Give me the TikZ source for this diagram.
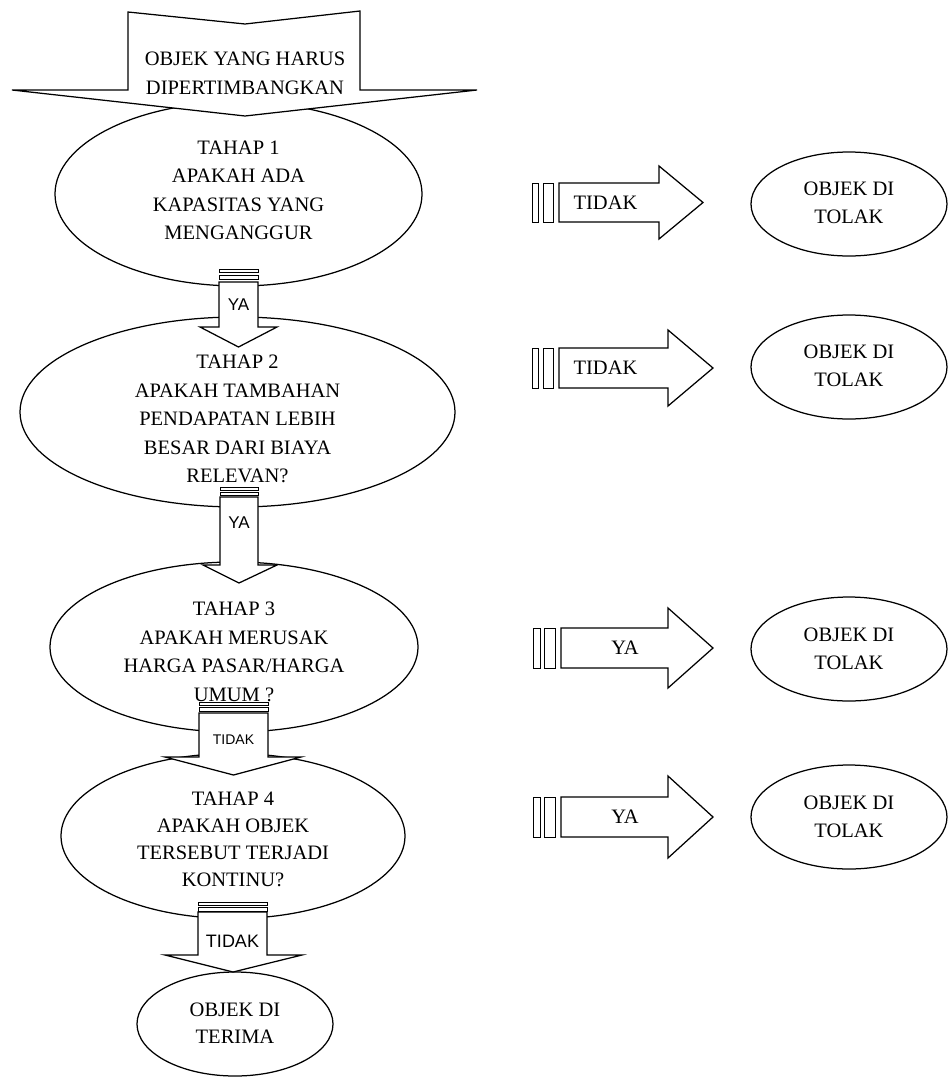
\documentclass[tikz,border=0pt]{standalone}
\usepackage{fontspec}
\setmainfont{Liberation Serif}
\newfontfamily\arialf{Liberation Sans}
\usetikzlibrary{shapes.geometric}
\begin{document}
\begin{tikzpicture}[x=1pt,y=-1pt, line width=1.25pt, line join=miter,
  oval/.style={draw, ellipse, fill=white, inner sep=0pt},
  txt/.style={font=\fontsize{20.5}{28.5}\selectfont, align=center, inner sep=0pt},
  blk/.style={draw, fill=white},
  stripe/.style={draw, fill=white, line width=1pt},
  sanslbl/.style={font=\arialf\fontsize{17}{20}\selectfont, inner sep=0pt}]
\useasboundingbox (0,0) rectangle (948,1077);

% main column ellipses
\node[oval, minimum width=367pt, minimum height=184pt] (e1) at (238.5,194) {};
\node[txt] (t1) at (238.5,190.5) {TAHAP 1\\APAKAH ADA\\KAPASITAS YANG\\MENGANGGUR};

\node[oval, minimum width=435pt, minimum height=190pt] (e2) at (237.5,412) {};
\node[txt] (t2) at (237.5,419) {TAHAP 2\\APAKAH TAMBAHAN\\PENDAPATAN LEBIH\\BESAR DARI BIAYA\\RELEVAN?};

\node[oval, minimum width=368pt, minimum height=170pt] (e3) at (234,647) {};
\node[txt] (t3) at (234,652) {TAHAP 3\\APAKAH MERUSAK\\HARGA PASAR/HARGA\\UMUM ?};

\node[oval, minimum width=344pt, minimum height=165pt] (e4) at (233,836) {};
\node[txt, font=\fontsize{20.5}{27}\selectfont] (t4) at (233,839) {TAHAP 4\\APAKAH OBJEK\\TERSEBUT TERJADI\\KONTINU?};

\node[oval, minimum width=196pt, minimum height=104pt] (e5) at (235,1024) {};
\node[txt, font=\fontsize{20.5}{27}\selectfont] (t5) at (235,1023) {OBJEK DI\\TERIMA};

% right ellipses
\node[oval, minimum width=196pt, minimum height=104pt] (r1) at (849,204) {};
\node[txt, font=\fontsize{20.5}{28}\selectfont] (rt1) at (849,202.5) {OBJEK DI\\TOLAK};
\node[oval, minimum width=196pt, minimum height=104pt] (r2) at (849,367) {};
\node[txt, font=\fontsize{20.5}{28}\selectfont] (rt2) at (849,366) {OBJEK DI\\TOLAK};
\node[oval, minimum width=196pt, minimum height=104pt] (r3) at (849,649) {};
\node[txt, font=\fontsize{20.5}{28}\selectfont] (rt3) at (849,649) {OBJEK DI\\TOLAK};
\node[oval, minimum width=196pt, minimum height=104pt] (r4) at (849,817) {};
\node[txt, font=\fontsize{20.5}{28}\selectfont] (rt4) at (849,817) {OBJEK DI\\TOLAK};

% right striped arrows
\draw[stripe] (532,183) rectangle (538,222);
\draw[stripe] (543,183) rectangle (553,222);
\draw[blk] (559,183) -- (659,183) -- (659,166) -- (703,202.5) -- (659,239) -- (659,222) -- (559,222) -- cycle;
\node[txt, anchor=west] (a1) at (573,203) {TIDAK};

\draw[stripe] (532,348) rectangle (538,388);
\draw[stripe] (543,348) rectangle (553,388);
\draw[blk] (559,348) -- (668,348) -- (668,330) -- (713,368) -- (668,406) -- (668,388) -- (559,388) -- cycle;
\node[txt, anchor=west] (a2) at (573,368) {TIDAK};

\draw[stripe] (533,628) rectangle (540,668);
\draw[stripe] (544,628) rectangle (555,668);
\draw[blk] (561,628) -- (668,628) -- (668,608) -- (713,648) -- (668,688) -- (668,668) -- (561,668) -- cycle;
\node[txt] (a3) at (625,648) {YA};

\draw[stripe] (533,797) rectangle (540,837);
\draw[stripe] (544,797) rectangle (555,837);
\draw[blk] (561,797) -- (668,797) -- (668,776) -- (713,817) -- (668,858) -- (668,837) -- (561,837) -- cycle;
\node[txt] (a4) at (625,817) {YA};

% down striped arrows
\draw[stripe] (219,269) rectangle (258,272.5);
\draw[stripe] (219,275) rectangle (258,279.5);
\draw[blk] (219,282) -- (258,282) -- (258,327) -- (277,327) -- (238.5,347) -- (200,327) -- (219,327) -- cycle;
\node[sanslbl] (d1) at (238.5,305) {YA};

\draw[stripe] (220,487) rectangle (258,490.5);
\draw[stripe] (220,492.5) rectangle (258,495);
\draw[blk] (220,497) -- (258,497) -- (258,565) -- (277,565) -- (239,583) -- (203,565) -- (220,565) -- cycle;
\node[sanslbl] (d2) at (239,523) {YA};

\draw[stripe] (199,702) rectangle (268,705.5);
\draw[stripe] (199,707.5) rectangle (268,711.5);
\draw[blk] (199,713) -- (268,713) -- (268,757) -- (301,757) -- (233.5,775) -- (165,757) -- (199,757) -- cycle;
\node[sanslbl, font=\arialf\fontsize{14}{16}\selectfont] (d3) at (233.5,740) {TIDAK};

\draw[stripe] (198,902) rectangle (267,905.5);
\draw[stripe] (198,907) rectangle (267,911);
\draw[blk] (198,912) -- (267,912) -- (267,955) -- (302,955) -- (233,972) -- (165,955) -- (198,955) -- cycle;
\node[sanslbl, font=\arialf\fontsize{18}{20}\selectfont] (d4) at (232.5,941) {TIDAK};

% top arrow
\draw[blk] (128,12) -- (245,24) -- (360,11) -- (360,90) -- (477,90) -- (245,116) -- (12,90) -- (128,90) -- cycle;
\node[txt, font=\fontsize{20.5}{29}\selectfont] (top) at (245,73.5) {OBJEK YANG HARUS\\DIPERTIMBANGKAN};
\end{tikzpicture}
\end{document}
